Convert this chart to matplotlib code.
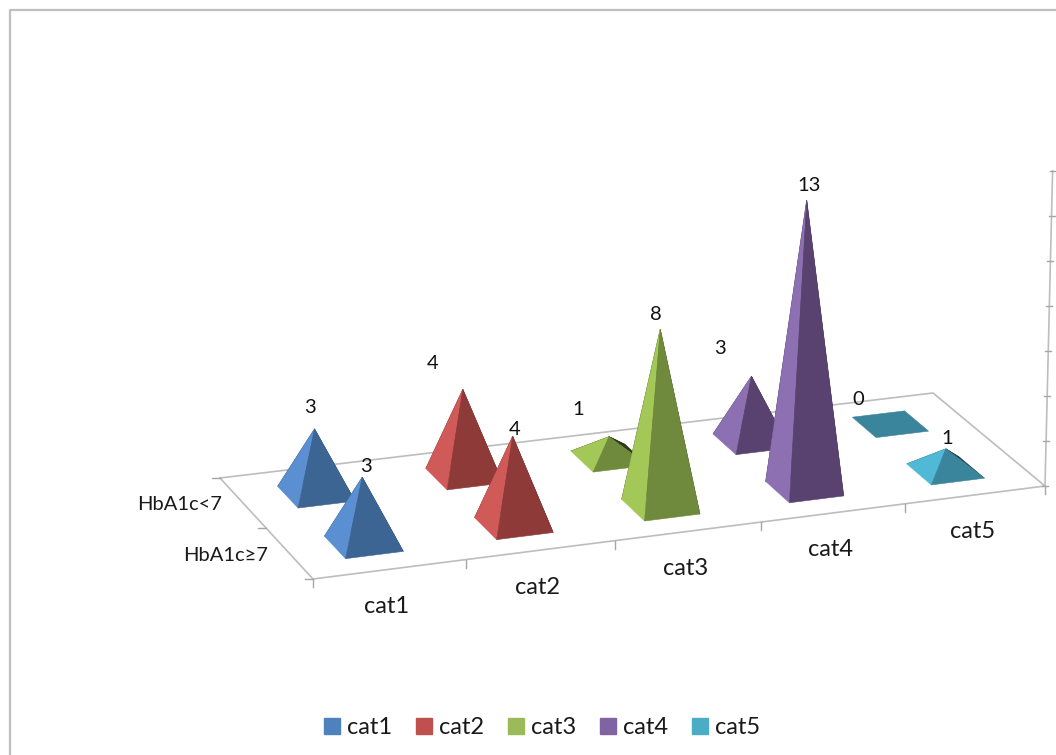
import numpy as np
import matplotlib
matplotlib.use("Agg")
import matplotlib.pyplot as plt
from matplotlib.patches import Polygon, Patch

plt.rcParams['font.family'] = ['Lato', 'DejaVu Sans']

categories = ["cat1", "cat2", "cat3", "cat4", "cat5"]
row_labels = ["HbA1c<7", "HbA1c\u22657"]
values_lt7 = [3, 4, 1, 3, 0]
values_ge7 = [3, 4, 8, 13, 1]
axis_max = 14
axis_step = 2

legend_colors = ['#4F81BD', '#C0504D', '#9BBB59', '#8064A2', '#4BACC6']
left_colors = ['#5A8FD2', '#D05A58', '#A3C858', '#8C70B2', '#4FB9D6']
right_colors = ['#3D6594', '#8E3A39', '#6F8A3C', '#5A4270', '#3A859C']
back_colors = ['#22384f', '#4c1f1f', '#2f3a1a', '#30233c', '#1d3f4c']
grey = '#BDBDBD'

# floor corners in pixels: back left, back right, front right, front left
floor_px = np.array([[220, 478], [933, 393], [1045, 486], [313, 579]], dtype=float)
floor_uv = np.array([[0, 0], [5, 0], [5, 2], [0, 2]], dtype=float)


def floor_matrix():
    a = []
    b = []
    for (u, v), (x, y) in zip(floor_uv, floor_px):
        a.append([u, v, 1, 0, 0, 0, -u * x, -v * x])
        a.append([0, 0, 0, u, v, 1, -u * y, -v * y])
        b += [x, y]
    return np.append(np.linalg.solve(np.array(a), np.array(b)), 1).reshape(3, 3)


H = floor_matrix()


def project(col, row, z=0):
    x, y, w = H @ np.array([col, row, 1.0])
    x, y = x / w, y / w
    h = z * (21.3 + 0.6 * row)
    return np.array([x + h * 0.00007 * (x - 700), y - h])


def pyramid(ax, col, row, value, i):
    half_w, half_d = 0.19, 0.22
    apex = project(col, row, value)
    back_left = project(col - half_w, row - half_d)
    back_right = project(col + half_w, row - half_d)
    front_right = project(col + half_w, row + half_d)
    front_left = project(col - half_w, row + half_d)
    if value == 0:
        ax.add_patch(Polygon([back_left, back_right, front_right, front_left],
                             fc=right_colors[i], ec=right_colors[i], lw=0.4, zorder=3))
        return apex
    faces = [([back_left, back_right, apex], back_colors[i]),
             ([back_right, front_right, apex], back_colors[i]),
             ([back_left, front_left, apex], left_colors[i]),
             ([front_left, front_right, apex], right_colors[i])]
    for pts, c in faces:
        ax.add_patch(Polygon(pts, fc=c, ec=c, lw=0.4, zorder=3))
    return apex


fig = plt.figure(figsize=(10.56, 7.55), dpi=100)
ax = fig.add_axes([0, 0, 1, 1])
ax.set_xlim(0, 1056)
ax.set_ylim(755, 0)
ax.axis('off')

# chart border, runs off the right and bottom of the picture
ax.plot([10, 10, 1056], [755, 9.5, 9.5], color='#BFBFBF', lw=1.6)

# floor
outline = np.array([project(*p) for p in floor_uv] + [project(*floor_uv[0])])
ax.plot(outline[:, 0], outline[:, 1], color=grey, lw=1.2, zorder=1)

for c in range(len(categories) + 1):
    p = project(c, 2)
    ax.plot([p[0], p[0]], [p[1], p[1] + 8], color='#A6A6A6', lw=1, zorder=1)
for r in range(len(row_labels) + 1):
    p = project(0, r)
    ax.plot([p[0] - 8, p[0]], [p[1], p[1]], color='#A6A6A6', lw=1, zorder=1)

# value axis at the right end
base = project(5, 2, 0)
top = project(5, 2, axis_max)
ax.plot([base[0], top[0]], [base[1], top[1]], color=grey, lw=1.2, zorder=1)
for t in range(0, axis_max + 1, axis_step):
    p = project(5, 2, t)
    ax.plot([p[0] - 3, p[0] + 3], [p[1], p[1]], color='#A6A6A6', lw=1, zorder=1)

# offsets of the value labels from the tip, in pixels
offsets_lt7 = [(-5, -21.5), (-30, -25.5), (-31, -27.5), (-31, -27.5), (-32, -25)]
offsets_ge7 = [(4, -10.5), (2, -6.5), (-4, -14.5), (2, -14.5), (1, -10.5)]

for r, (vals, offs) in enumerate([(values_lt7, offsets_lt7), (values_ge7, offsets_ge7)]):
    for i, v in enumerate(vals):
        apex = pyramid(ax, i + 0.49, r + 0.5, v, i)
        ax.text(apex[0] + offs[i][0], apex[1] + offs[i][1], str(v), fontsize=14.5,
                ha='center', va='center', color='#111111', zorder=4)

for i, name in enumerate(categories):
    p = project(i + 0.5, 2)
    ax.text(p[0] - 3, p[1] + 37, name, fontsize=17, ha='center', va='center', color='#1a1a1a')

for r, name in enumerate(row_labels):
    p = project(0, r + 0.5)
    ax.text(p[0] - 21, p[1] + 2, name, fontsize=14.5, ha='right', va='center', color='#1a1a1a')

handles = [Patch(fc=c, ec=c, label=n) for c, n in zip(legend_colors, categories)]
fig.legend(handles=handles, loc='center', bbox_to_anchor=(542 / 1056, 1 - 728 / 755), ncol=5,
           frameon=False, fontsize=17, handlelength=0.68, handleheight=0.68, handletextpad=0.3,
           columnspacing=1.0, labelcolor='#1a1a1a')

fig.savefig('out.png', dpi=100)
